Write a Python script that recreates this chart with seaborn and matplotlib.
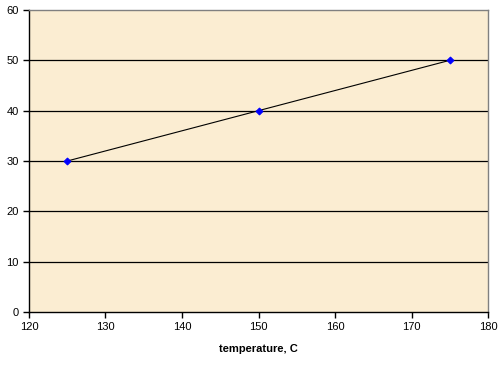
import pandas as pd
import seaborn as sns
import matplotlib.pyplot as plt

temperature = [125, 150, 175]
values = [30, 40, 50]

df = pd.DataFrame({"temperature": temperature, "value": values})

sns.set_style("white")
plt.rcParams['font.family'] = ['Liberation Sans', 'DejaVu Sans']
plt.rcParams['text.color'] = 'black'
plt.rcParams['xtick.color'] = 'black'
plt.rcParams['ytick.color'] = 'black'
plt.rcParams['axes.labelcolor'] = 'black'

fig = plt.figure(figsize=(5.03, 3.79), dpi=100)
ax = fig.add_axes([29 / 503, 67 / 379, 459 / 503, 302 / 379])
ax.set_facecolor("#FBEDD2")

# linhas de grade horizontais
for y in range(10, 60, 10):
    ax.axhline(y, color="black", linewidth=0.9, zorder=1)

sns.lineplot(data=df, x="temperature", y="value", color="black", linewidth=0.8,
             marker="D", markersize=3.5, markerfacecolor="#0000FF",
             markeredgecolor="#0000FF", ax=ax, zorder=3)

ax.set_xlim(120, 180)
ax.set_ylim(0, 60)
ax.set_xticks(range(120, 181, 10))
ax.set_yticks(range(0, 61, 10))
ax.tick_params(axis="both", direction="out", length=4, width=1, labelsize=8,
               color="black", labelcolor="black", bottom=True, left=True)
ax.set_xlabel("temperature, C", fontsize=8, fontweight="bold", labelpad=8,
              color="black")
ax.set_ylabel("")

for side in ["left", "bottom"]:
    ax.spines[side].set_color("black")
    ax.spines[side].set_linewidth(1)
for side in ["top", "right"]:
    ax.spines[side].set_color("#808080")
    ax.spines[side].set_linewidth(1)

fig.savefig("out.png", dpi=100)
